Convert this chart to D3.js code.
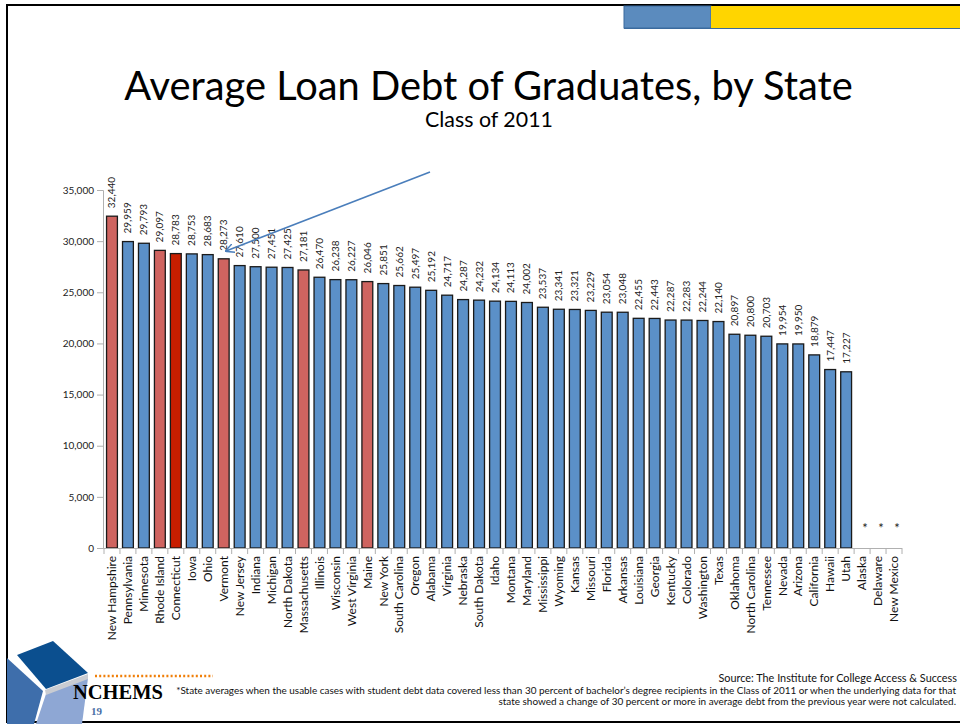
<!DOCTYPE html>
<html><head><meta charset="utf-8">
<script src="https://cdn.jsdelivr.net/npm/d3@7"></script>
<style>body{margin:0;background:#fff} svg{display:block}</style>
</head><body><svg id="c" width="960" height="725"></svg>
<script>
const states = ["New Hampshire","Pennsylvania","Minnesota","Rhode Island","Connecticut","Iowa","Ohio","Vermont","New Jersey","Indiana","Michigan","North Dakota","Massachusetts","Illinois","Wisconsin","West Virginia","Maine","New York","South Carolina","Oregon","Alabama","Virginia","Nebraska","South Dakota","Idaho","Montana","Maryland","Mississippi","Wyoming","Kansas","Missouri","Florida","Arkansas","Louisiana","Georgia","Kentucky","Colorado","Washington","Texas","Oklahoma","North Carolina","Tennessee","Nevada","Arizona","California","Hawaii","Utah","Alaska","Delaware","New Mexico"];
const debt = [32440,29959,29793,29097,28783,28753,28683,28273,27610,27500,27451,27425,27181,26470,26238,26227,26046,25851,25662,25497,25192,24717,24287,24232,24134,24113,24002,23537,23341,23321,23229,23054,23048,22455,22443,22287,22283,22244,22140,20897,20800,20703,19954,19950,18879,17447,17227,null,null,null];
const newEngland = ["New Hampshire","Rhode Island","Vermont","Massachusetts","Maine"];
const focusState = "Connecticut";
const yTicks = [0,5000,10000,15000,20000,25000,30000,35000];
const title = "Average Loan Debt of Graduates, by State";
const subtitle = "Class of 2011";
const source = "Source: The Institute for College Access & Success";
const footnote = ["*State averages when the usable cases with student debt data covered less than 30 percent of bachelor\u2019s degree recipients in the Class of 2011 or when the underlying data for that",
  "state showed a change of 30 percent or more in average debt from the previous year were not calculated."];

const svg = d3.select("#c");
const FONT = "Lato, 'Open Sans', sans-serif";

// slide frame + header decoration
svg.append("rect").attr("x",7).attr("y",5).attr("width",960).attr("height",717)
  .attr("fill","none").attr("stroke","#000").attr("stroke-width",2);
svg.append("rect").attr("x",624).attr("y",6).attr("width",87).attr("height",22).attr("fill","#5B8BBE").attr("stroke","#3A6A9E").attr("stroke-width",1);
svg.append("rect").attr("x",711).attr("y",6).attr("width",252).attr("height",22).attr("fill","#FFD500");
svg.append("line").attr("x1",624).attr("x2",960).attr("y1",28.5).attr("y2",28.5).attr("stroke","#3A6A9E").attr("stroke-width",1);

function fit(sel, target){
  const n = sel.node(); const w = n.getComputedTextLength();
  const fs = parseFloat(sel.attr("font-size"));
  sel.attr("font-size", fs*target/w);
}

const t1 = svg.append("text").attr("x",488.5).attr("y",100).attr("text-anchor","middle")
  .attr("font-family",FONT).attr("font-size",33).attr("fill","#000").text(title);
fit(t1,729);
const t2 = svg.append("text").attr("x",489).attr("y",127).attr("text-anchor","middle")
  .attr("font-family",FONT).attr("font-size",17).attr("fill","#000").text(subtitle);
fit(t2,128);

// scales
const x = d3.scaleBand().domain(states).range([104,902]).paddingInner(0.32).paddingOuter(0.16);
const y = d3.scaleLinear().domain([0,35000]).range([548,190]);

// y axis
const yAxis = svg.append("g").attr("transform","translate(103,0)")
  .call(d3.axisLeft(y).tickValues(yTicks).tickSize(6).tickFormat(d3.format(",")));
yAxis.select(".domain").attr("stroke","#b0b0b0");
yAxis.selectAll(".tick line").attr("stroke","#b0b0b0");
yAxis.selectAll(".tick text").attr("font-family",FONT).attr("font-size",10).attr("fill","#222").attr("x",-9);

// bars
const data = states.map((s,i)=>({s, v:debt[i]}));
svg.append("g").selectAll("rect").data(data.filter(d=>d.v!==null)).join("rect")
  .attr("x",d=>x(d.s)).attr("width",x.bandwidth())
  .attr("y",d=>y(d.v)).attr("height",d=>y(0)-y(d.v))
  .attr("fill",d=>d.s===focusState?"#C81E00":(newEngland.includes(d.s)?"#CF6460":"#5B90C8"))
  .attr("stroke","#1a1a1a").attr("stroke-width",1.3);

// x axis
const xAxis = svg.append("g").attr("transform","translate(0,548)")
  .call(d3.axisBottom(x).tickSize(0).tickSizeOuter(0));
xAxis.select(".domain").attr("stroke","#b0b0b0").attr("d","M103,0.5H902");
xAxis.selectAll(".tick text").attr("font-family",FONT).attr("font-size",12).attr("fill","#111")
  .attr("transform","rotate(-90)").attr("text-anchor","end").attr("x",-8).attr("y",0).attr("dy","0.35em");
svg.append("g").selectAll("line").data(states).join("line")
  .attr("x1",d=>x(d)-x.step()*x.paddingInner()/2).attr("x2",d=>x(d)-x.step()*x.paddingInner()/2)
  .attr("y1",548).attr("y2",554).attr("stroke","#b0b0b0");
svg.append("line").attr("x1",902).attr("x2",902).attr("y1",548).attr("y2",554).attr("stroke","#b0b0b0");

// data labels
const lab = svg.append("g");
data.forEach(d=>{
  const cx = x(d.s)+x.bandwidth()/2;
  if(d.v!==null){
    lab.append("text").attr("transform",`translate(${cx},${y(d.v)-8}) rotate(-90)`)
      .attr("dy","0.35em").attr("font-family",FONT).attr("font-size",10).attr("fill","#222")
      .text(d3.format(",")(d.v));
  } else {
    lab.append("text").attr("x",cx+3).attr("y",533).attr("text-anchor","middle")
      .attr("font-family",FONT).attr("font-size",13).attr("fill","#222").text("*");
  }
});

// arrow
const defs = svg.append("defs");
defs.append("marker").attr("id","ah").attr("viewBox","0 0 10 10").attr("refX",9).attr("refY",5)
  .attr("markerWidth",9).attr("markerHeight",9).attr("orient","auto").attr("markerUnits","userSpaceOnUse")
  .append("path").attr("d","M0,0L10,5L0,10").attr("fill","none").attr("stroke","#4A7EBB").attr("stroke-width",1.6);
svg.append("line").attr("x1",430).attr("y1",172).attr("x2",226).attr("y2",251)
  .attr("stroke","#4A7EBB").attr("stroke-width",1.6).attr("marker-end","url(#ah)");

// footer
const s1 = svg.append("text").attr("x",957).attr("y",682).attr("text-anchor","end")
  .attr("font-family",FONT).attr("font-size",11).attr("fill","#111").text(source);
fit(s1,239);
const f1 = svg.append("text").attr("x",956).attr("y",693.5).attr("text-anchor","end")
  .attr("font-family",FONT).attr("font-size",8.5).attr("fill","#111").text(footnote[0]);
fit(f1,781);
const f2 = svg.append("text").attr("x",956).attr("y",705).attr("text-anchor","end")
  .attr("font-family",FONT).attr("font-size",8.5).attr("fill","#111").text(footnote[1]);
fit(f2,458);

// logo
const logo = svg.append("g");
logo.append("polygon").attr("points","7,658 43,691 34,724 7,724").attr("fill","#3E6EAB");
logo.append("polygon").attr("points","46,694 88,678 82,724 36,724").attr("fill","#8EA7D4");
logo.append("polygon").attr("points","45,690 88,674 88,679 46,695").attr("fill","#c9ccd2");
logo.append("polygon").attr("points","17,655 53,641 88,673 46,689").attr("fill","#0B4F8F");
logo.append("line").attr("x1",95).attr("x2",213).attr("y1",676).attr("y2",676)
  .attr("stroke","#F07F09").attr("stroke-width",2.5).attr("stroke-dasharray","2,2.2");
const nc = svg.append("text").attr("x",73).attr("y",699).attr("font-family","'Liberation Serif', serif")
  .attr("font-weight","bold").attr("font-size",20).attr("fill","#000").text("NCHEMS");
fit(nc,90);
svg.append("text").attr("x",91).attr("y",715).attr("font-family","'Liberation Serif', serif")
  .attr("font-weight","bold").attr("font-size",11).attr("fill","#4A6FA5").text("19");
</script></body></html>
